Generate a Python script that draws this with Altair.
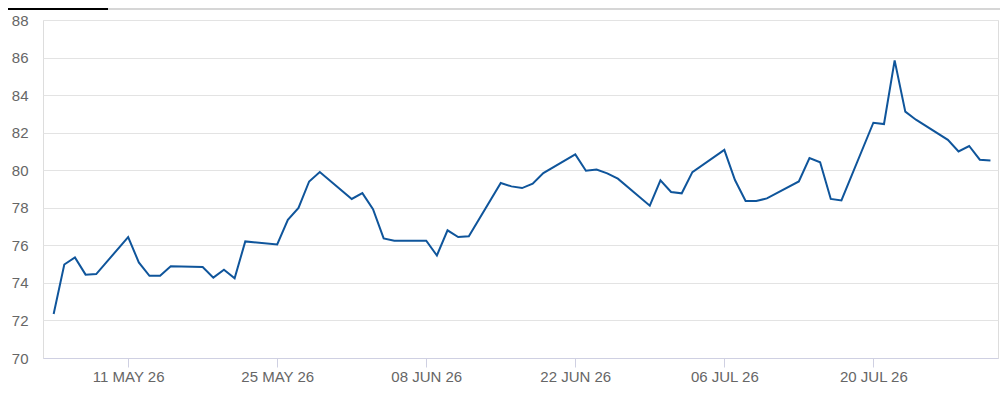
import altair as alt
import pandas as pd

dates = [
    "2026-05-04", "2026-05-05", "2026-05-06", "2026-05-07", "2026-05-08",
    "2026-05-11", "2026-05-12", "2026-05-13", "2026-05-14", "2026-05-15",
    "2026-05-18", "2026-05-19", "2026-05-20", "2026-05-21", "2026-05-22",
    "2026-05-25", "2026-05-26", "2026-05-27", "2026-05-28", "2026-05-29",
    "2026-06-01", "2026-06-02", "2026-06-03", "2026-06-04", "2026-06-05",
    "2026-06-08", "2026-06-09", "2026-06-10", "2026-06-11", "2026-06-12",
    "2026-06-15", "2026-06-16", "2026-06-17", "2026-06-18", "2026-06-19",
    "2026-06-22", "2026-06-23", "2026-06-24", "2026-06-25", "2026-06-26",
    "2026-06-29", "2026-06-30", "2026-07-01", "2026-07-02", "2026-07-03",
    "2026-07-06", "2026-07-07", "2026-07-08", "2026-07-09", "2026-07-10",
    "2026-07-13", "2026-07-14", "2026-07-15", "2026-07-16", "2026-07-17",
    "2026-07-20", "2026-07-21", "2026-07-22", "2026-07-23", "2026-07-24",
    "2026-07-27", "2026-07-28", "2026-07-29", "2026-07-30", "2026-07-31",
]
values = [
    72.34, 74.98, 75.36, 74.44, 74.47,
    76.44, 75.09, 74.38, 74.38, 74.88,
    74.85, 74.28, 74.70, 74.24, 76.21,
    76.05, 77.36, 77.99, 79.40, 79.90,
    78.47, 78.78, 77.92, 76.37, 76.25,
    76.25, 75.46, 76.80, 76.44, 76.48,
    79.32, 79.14, 79.05, 79.28, 79.85,
    80.84, 79.97, 80.04, 79.83, 79.55,
    78.11, 79.46, 78.84, 78.77, 79.90,
    81.08, 79.48, 78.36, 78.36, 78.50,
    79.40, 80.65, 80.42, 78.47, 78.39,
    82.53, 82.46, 85.85, 83.12, 82.69,
    81.62, 81.00, 81.29, 80.56, 80.52,
]
tick_dates = ["2026-05-11", "2026-05-25", "2026-06-08", "2026-06-22", "2026-07-06", "2026-07-20"]
y_ticks = [70, 72, 74, 76, 78, 80, 82, 84, 86, 88]

df = pd.DataFrame({"date": [d + "T00:00:00Z" for d in dates], "value": values})
tick_ms = [int(pd.Timestamp(d, tz="UTC").value // 10**6) for d in tick_dates]

FONT = "Liberation Sans"
LABEL_COLOR = "#666666"

x_enc = alt.X(
    "date:T",
    scale=alt.Scale(type="utc", domain=["2026-05-03T00:00:00Z", "2026-07-31T17:00:00Z"]),
    axis=alt.Axis(
        values=tick_ms,
        labelExpr="upper(utcFormat(datum.value, '%d %b %y'))",
        title=None,
        grid=False,
        domainColor="#cfd0e2",
        tickColor="#cfd0e2",
        tickSize=9,
        labelPadding=2,
        labelFont=FONT,
        labelFontSize=15,
        labelColor=LABEL_COLOR,
        labelFlush=False,
    ),
)
y_enc = alt.Y(
    "value:Q",
    scale=alt.Scale(domain=[70, 88], nice=False, zero=False),
    axis=alt.Axis(
        values=y_ticks,
        title=None,
        domain=False,
        ticks=False,
        grid=True,
        gridColor="#e3e3e3",
        gridWidth=1,
        labelAlign="right",
        labelPadding=15,
        labelFont=FONT,
        labelFontSize=15,
        labelColor=LABEL_COLOR,
    ),
)

line = alt.Chart(df).mark_line(color="#0f559b", strokeWidth=2, interpolate="linear").encode(
    x=x_enc, y=y_enc
)

top_black = alt.Chart(df).mark_rule(color="#000000", strokeWidth=2).encode(
    x=alt.value(-35), x2=alt.value(65), y=alt.value(-11)
)
top_grey = alt.Chart(df).mark_rule(color="#d6d6d6", strokeWidth=2).encode(
    x=alt.value(65), x2=alt.value(957), y=alt.value(-11)
)

chart = alt.layer(top_grey, top_black, line).properties(
    width=955,
    height=338,
    padding={"left": 35, "top": 12, "right": 2, "bottom": 34},
    autosize=alt.AutoSizeParams(type="none"),
).configure_view(stroke=None).configure(background="white")

chart.save("out.html", embed_options={"renderer": "svg", "actions": False})
